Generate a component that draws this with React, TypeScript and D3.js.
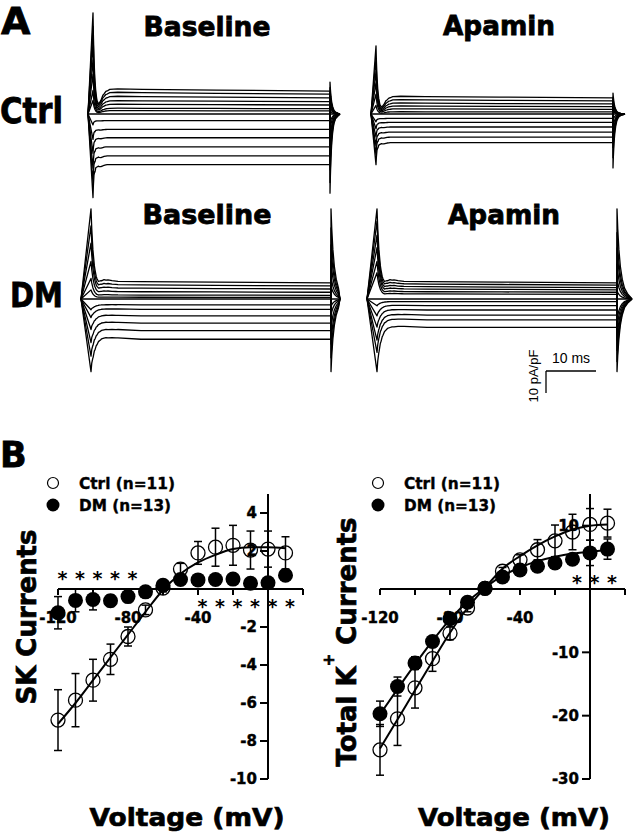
import React from "react";
import * as d3 from "d3";

// ---------- Panel A: steady-state current of each voltage step (pA/pF) ----------
const ctrlBaselineLevels = [11.2, 9.7, 7.9, 6.0, 4.4, 2.6, 1.5, 0, -3.0, -7.0, -10.8, -14.9, -19.0, -23.0];
const ctrlApaminLevels = [7.9, 6.4, 4.9, 3.6, 2.3, 1.0, 0, -2.0, -3.8, -5.9, -8.2, -10.5, -13.0];
const dmBaselineLevels = [7.9, 6.4, 4.9, 3.3, 1.8, 0.8, 0, -2.7, -4.7, -7.7, -11.0, -14.4, -18.3];
const dmApaminLevels = [7.9, 6.8, 5.6, 4.5, 3.3, 2.3, 0, -1.2, -3.0, -5.0, -7.3, -9.5, -12.9];

// capacitive transient peaks (pA/pF): [on up, on down, off up, off down]
const ctrlBaselinePeaks = [46, -38, 14.5, -36];
const ctrlApaminPeaks = [31, -23, 9.5, -24.5];
const dmBaselinePeaks = [41, -33, 41, -33];
const dmApaminPeaks = [41, -33, 41, -33];

// normalised waveform pieces (time in ms)
const capTime = [0, 0.1, 0.25, 0.45, 0.7, 1.0, 1.4, 2.0, 2.8, 3.6];
const capShape = [1, 0.78, 0.55, 0.36, 0.22, 0.12, 0.06, 0.025, 0.008, 0];
const actTime = [0, 0.4, 0.8, 1.2, 1.6, 2.0, 2.6, 3.4, 5, 10, 25, 48];
const actOutward = [0, 0, 0.05, 0.2, 0.45, 0.7, 0.9, 1.0, 1.02, 1.0, 0.97, 0.93];
const actInwardFast = [0, 0.6, 0.85, 0.95, 1, 1, 1, 1, 1, 1, 1, 1];
const actInwardSlow = [0, 0.5, 0.7, 0.8, 0.85, 0.88, 0.9, 0.93, 0.96, 1, 1, 1];
const pulseMs = 48;

// ---------- Panel B: I-V relations ----------
const voltages = [-120, -110, -100, -90, -80, -70, -60, -50, -40, -30, -20, -10, 0, 10];

const skCtrl = [-6.9, -5.85, -4.8, -3.7, -2.5, -1.1, 0.05, 1.05, 1.9, 2.2, 2.3, 2.05, 2.1, 1.9];
const skCtrlErr = [1.6, 1.4, 1.1, 0.8, 0.5, 0.25, 0.2, 0.3, 0.6, 1.0, 1.05, 1.0, 0.95, 0.85];
const skDm = [-1.25, -0.6, -0.55, -0.62, -0.4, -0.15, 0.2, 0.5, 0.48, 0.5, 0.52, 0.3, 0.33, 0.72];
const skDmErr = [0.85, 0.6, 0.55, 0.3, 0.3, 0.2, 0.2, 0.2, 0.2, 0.2, 0.2, 0.2, 0.2, 0.2];
const skCtrlFit = [-7.1, -6.0, -4.8, -3.6, -2.4, -1.2, -0.05, 0.8, 1.4, 1.8, 2.1, 2.2, 2.2, 2.15];

const totalCtrl = [-25.4, -20.5, -15.6, -11.0, -7.0, -3.0, 0.1, 2.8, 4.6, 6.2, 7.6, 9.0, 10.2, 10.4];
const totalCtrlErr = [4.0, 4.2, 3.2, 2.0, 1.0, 0.6, 0.4, 0.6, 0.8, 1.6, 2.5, 2.8, 2.5, 2.2];
const totalDm = [-19.7, -15.4, -11.7, -8.3, -4.7, -2.1, 0.1, 1.9, 3.0, 3.6, 4.1, 4.7, 5.7, 6.3];
const totalDmErr = [2.0, 1.5, 1.0, 0.8, 0.5, 0.4, 0.3, 0.3, 0.3, 0.3, 0.4, 0.5, 2.0, 1.6];
const totalCtrlFit = [-25.2, -20.6, -16.0, -11.4, -6.9, -3.0, 0.2, 3.2, 5.2, 6.9, 8.3, 9.4, 10.0, 10.2];
const totalDmFit = [-19.8, -15.8, -11.9, -8.2, -4.8, -2.0, 0.2, 2.1, 3.4, 4.4, 5.1, 5.6, 5.9, 6.1];

const skStarsUpper = [-120, -110, -100, -90, -80];
const skStarsLower = [-40, -30, -20, -10, 0, 10];
const totalStars = [-10, 0, 10];

const xTicks = [-120, -100, -80, -60, -40, -20, 0, 20];
const xTickLabels = [-120, -80, -40];
const skYTicks = [-10, -8, -6, -4, -2, 2, 4];
const totalYTicks = [-30, -20, -10, 10];

const HEAVY = "'DejaVu Sans', sans-serif";
const PLAIN = "'Liberation Sans', Arial, sans-serif";

type Pt = [number, number];

function TracePanel({ levels, peaks, x0, x1, zeroY, holdX, tailX, stretch, inward }: any) {
  const t = d3.scaleLinear([0, pulseMs], [x0, x1]);
  const y = d3.scaleLinear([0, 10], [zeroY, zeroY - 22]);
  const cap = d3.scaleLinear(capTime, capShape).clamp(true);
  const maxOut = d3.max(levels as number[]) as number;
  const minIn = d3.min(levels as number[]) as number;
  const line = d3.line<Pt>();
  const times = Array.from(new Set([...capTime.map((c) => c * stretch), ...actTime])).sort((a, b) => a - b);

  const paths = (levels as number[]).map((level) => {
    const outward = level > 0;
    const act = d3.scaleLinear(actTime, outward ? actOutward : inward).clamp(true);
    const frac = outward ? level / maxOut : level / minIn;
    const on = (outward ? peaks[0] : peaks[1]) * frac;
    const off = (outward ? peaks[3] : peaks[2]) * frac;
    const pts: Pt[] = [[holdX, y(0)]];
    times.forEach((ms) => pts.push([t(ms), y(on * cap(ms / stretch) + level * act(ms))]));
    capTime
      .filter((c) => t(pulseMs + c * stretch) < tailX)
      .forEach((c) => pts.push([t(pulseMs + c * stretch), y(off * cap(c))]));
    pts.push([tailX, y(0)]);
    return line(pts) as string;
  });

  return (
    <g fill="none" stroke="#000" strokeWidth={1.3} strokeLinejoin="round">
      {paths.map((d, i) => (
        <path key={i} d={d} />
      ))}
    </g>
  );
}

function IVChart({ xRange, yDomain, ctrl, ctrlErr, dm, dmErr, ctrlFit, dmFit, stars, yTicks }: any) {
  const x = d3.scaleLinear([-120, 20], xRange);
  const y = d3.scaleLinear(yDomain, [779, 494]);
  const x0 = x(0);
  const y0 = y(0);
  const fitLine = d3
    .line<number>()
    .x((_, i) => x(voltages[i]))
    .y((d) => y(d))
    .curve(d3.curveMonotoneX);

  const errBars = (vals: number[], errs: number[]) =>
    vals.map((v, i) => {
      const cx = x(voltages[i]);
      const top = y(v + errs[i]);
      const bot = y(v - errs[i]);
      return (
        <g key={i}>
          <line x1={cx} x2={cx} y1={top} y2={bot} />
          <line x1={cx - 4} x2={cx + 4} y1={top} y2={top} />
          <line x1={cx - 4} x2={cx + 4} y1={bot} y2={bot} />
        </g>
      );
    });

  return (
    <g>
      {/* axes */}
      <g stroke="#000" strokeWidth={2}>
        <line x1={x(-120)} x2={x(20)} y1={y0} y2={y0} />
        <line x1={x0} x2={x0} y1={y(yDomain[0])} y2={y(yDomain[1])} />
        {xTicks.map((v) => (
          <line key={v} x1={x(v)} x2={x(v)} y1={y0} y2={y0 + 6} />
        ))}
        {yTicks.map((v: number) => (
          <line key={v} x1={x0 - 8} x2={x0} y1={y(v)} y2={y(v)} />
        ))}
      </g>
      <g fontFamily={HEAVY} fontWeight="bold" fontSize={15} fill="#000" stroke="#000" strokeWidth={0.4}>
        {xTickLabels.map((v) => (
          <text key={v} x={x(v)} y={623} textAnchor="middle">
            {v}
          </text>
        ))}
        {yTicks.map((v: number) => (
          <text key={v} x={x0 - 11} y={y(v)} dy="0.36em" textAnchor="end">
            {v}
          </text>
        ))}
      </g>
      {/* significance marks */}
      <g fontFamily={HEAVY} fontWeight="bold" fontSize={19} fill="#000" textAnchor="middle">
        {stars.map((s: any, k: number) =>
          s.v.map((v: number) => (
            <text key={k + "_" + v} x={x(v) + 4.5} y={s.y}>
              *
            </text>
          ))
        )}
      </g>
      {/* data */}
      <g stroke="#000" strokeWidth={1.5}>
        {errBars(ctrl, ctrlErr)}
        {errBars(dm, dmErr)}
      </g>
      <g fill="none" stroke="#000" strokeWidth={1.3}>
        {ctrl.map((v: number, i: number) => (
          <circle key={i} cx={x(voltages[i])} cy={y(v)} r={7} />
        ))}
      </g>
      <g fill="none" stroke="#000" strokeWidth={2}>
        <path d={fitLine(ctrlFit) as string} />
        {dmFit && <path d={fitLine(dmFit) as string} />}
      </g>
      <g fill="#000">
        {dm.map((v: number, i: number) => (
          <circle key={i} cx={x(voltages[i])} cy={y(v)} r={7.5} />
        ))}
      </g>
    </g>
  );
}

function Legend({ x }: { x: number }) {
  return (
    <g fontFamily={HEAVY} fontWeight="bold" fontSize={16} fill="#000">
      <circle cx={x} cy={483} r={5.5} fill="none" stroke="#000" strokeWidth={1.2} />
      <text x={x + 26} y={489} textLength={96} lengthAdjust="spacingAndGlyphs" stroke="#000" strokeWidth={0.4}>
        Ctrl (n=11)
      </text>
      <circle cx={x} cy={505} r={6.5} fill="#000" />
      <text x={x + 26} y={511} textLength={92} lengthAdjust="spacingAndGlyphs" stroke="#000" strokeWidth={0.4}>
        DM (n=13)
      </text>
    </g>
  );
}

export default function App() {
  const scaleT = d3.scaleLinear([0, pulseMs], [377, 617]);
  const scaleBarX = 546;
  const scaleBarY = 371;
  const msLen = scaleT(10) - scaleT(0);
  const pApFLen = 22;

  return (
    <svg
      width={633}
      height={835}
      viewBox="0 0 633 835"
      style={{ position: "absolute", left: 0, top: 0, background: "#fff" }}
    >
      <rect width={633} height={835} fill="#fff" />
      {/* ---------- A ---------- */}
      <g fontFamily={HEAVY} fontWeight="bold" fill="#000" stroke="#000" strokeWidth={0.8}>
        <text x={1} y={34} fontSize={38}>A</text>
        <text x={207} y={36} fontSize={26} textAnchor="middle" textLength={127} lengthAdjust="spacingAndGlyphs">Baseline</text>
        <text x={499} y={35} fontSize={26} textAnchor="middle" textLength={112} lengthAdjust="spacingAndGlyphs">Apamin</text>
        <text x={207} y={224} fontSize={26} textAnchor="middle" textLength={129} lengthAdjust="spacingAndGlyphs">Baseline</text>
        <text x={504} y={224} fontSize={26} textAnchor="middle" textLength={112} lengthAdjust="spacingAndGlyphs">Apamin</text>
        <text x={0} y={123} fontSize={36} textLength={63} lengthAdjust="spacingAndGlyphs">Ctrl</text>
        <text x={10} y={307} fontSize={34} textLength={53} lengthAdjust="spacingAndGlyphs">DM</text>
      </g>

      <TracePanel levels={ctrlBaselineLevels} peaks={ctrlBaselinePeaks} x0={93} x1={330} zeroY={114} holdX={88} tailX={340} stretch={0.8} inward={actInwardFast} />
      <TracePanel levels={ctrlApaminLevels} peaks={ctrlApaminPeaks} x0={376} x1={613} zeroY={114} holdX={371} tailX={625} stretch={0.8} inward={actInwardFast} />
      <TracePanel levels={dmBaselineLevels} peaks={dmBaselinePeaks} x0={91} x1={331} zeroY={299} holdX={81} tailX={340} stretch={1.5} inward={actInwardSlow} />
      <TracePanel levels={dmApaminLevels} peaks={dmApaminPeaks} x0={377} x1={617} zeroY={299} holdX={367} tailX={632} stretch={1.5} inward={actInwardSlow} />

      {/* scale bar */}
      <g stroke="#000" strokeWidth={1.3} fill="none">
        <line x1={scaleBarX} x2={scaleBarX + msLen} y1={scaleBarY} y2={scaleBarY} />
        <line x1={scaleBarX} x2={scaleBarX} y1={scaleBarY} y2={scaleBarY + pApFLen} />
      </g>
      <g fontFamily={PLAIN} fill="#000">
        <text x={571} y={363} fontSize={14} textAnchor="middle">10 ms</text>
        <text transform="translate(538,376) rotate(-90)" fontSize={13} textAnchor="middle">10 pA/pF</text>
      </g>

      {/* ---------- B ---------- */}
      <text x={0} y={467} fontFamily={HEAVY} fontWeight="bold" fontSize={35} fill="#000" stroke="#000" strokeWidth={0.8}>B</text>
      <Legend x={53} />
      <Legend x={378} />

      <IVChart
        xRange={[58, 303]}
        yDomain={[-10, 5]}
        ctrl={skCtrl}
        ctrlErr={skCtrlErr}
        dm={skDm}
        dmErr={skDmErr}
        ctrlFit={skCtrlFit}
        stars={[
          { v: skStarsUpper, y: 585 },
          { v: skStarsLower, y: 613 },
        ]}
        yTicks={skYTicks}
      />
      <IVChart
        xRange={[380, 625]}
        yDomain={[-30, 15]}
        ctrl={totalCtrl}
        ctrlErr={totalCtrlErr}
        dm={totalDm}
        dmErr={totalDmErr}
        ctrlFit={totalCtrlFit}
        dmFit={totalDmFit}
        stars={[{ v: totalStars, y: 589 }]}
        yTicks={totalYTicks}
      />

      <g fontFamily={HEAVY} fontWeight="bold" fill="#000" stroke="#000" strokeWidth={0.7}>
        <text transform="translate(36,617) rotate(-90)" fontSize={26} textAnchor="middle" textLength={175} lengthAdjust="spacingAndGlyphs">
          SK Currents
        </text>
        <text transform="translate(356,642) rotate(-90)" fontSize={26} textAnchor="middle">
          Total K<tspan dy={-22} fontSize={15}>+</tspan>
          <tspan dy={22}> Currents</tspan>
        </text>
        <text x={187} y={826} fontSize={25} textAnchor="middle" textLength={195} lengthAdjust="spacingAndGlyphs">
          Voltage (mV)
        </text>
        <text x={514} y={826} fontSize={25} textAnchor="middle" textLength={192} lengthAdjust="spacingAndGlyphs">
          Voltage (mV)
        </text>
      </g>
    </svg>
  );
}
